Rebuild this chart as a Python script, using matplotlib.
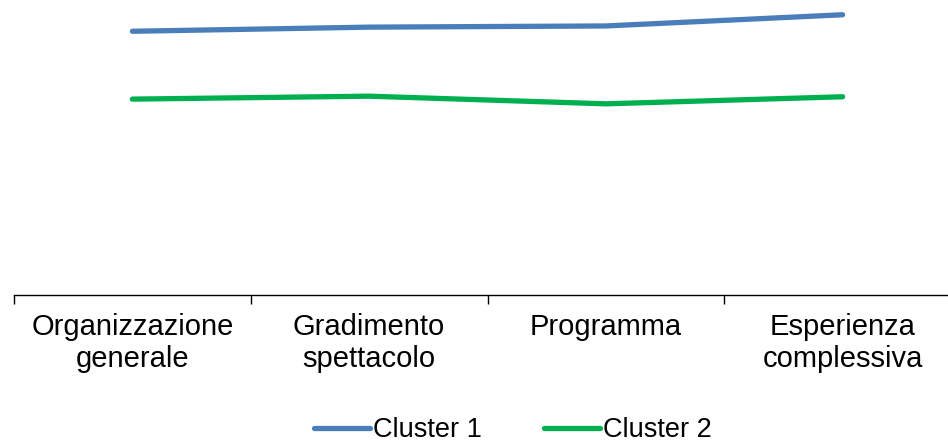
import matplotlib.pyplot as plt
import numpy as np

categories = ['Organizzazione\ngenerale', 'Gradimento\nspettacolo', 'Programma', 'Esperienza\ncomplessiva']
cluster_1 = [4.47, 4.54, 4.56, 4.75]
cluster_2 = [3.32, 3.37, 3.24, 3.36]

plt.rcParams['font.family'] = ['Liberation Sans', 'DejaVu Sans']

fig = plt.figure(figsize=(9.48, 4.43), dpi=100)
# the axis runs past the right edge of the picture, like the original
ax = fig.add_axes([14 / 948, 1 - 295 / 443, 947 / 948, 295 / 443])

x = np.arange(len(categories))
ax.plot(x, cluster_1, color='#4A7EBB', lw=3.8, solid_capstyle='round', label='Cluster 1')
ax.plot(x, cluster_2, color='#00B050', lw=3.8, solid_capstyle='round', label='Cluster 2')

ax.set_xlim(-0.5, len(categories) - 0.5)
ax.set_ylim(0, 5)

for side in ['top', 'right', 'left']:
    ax.spines[side].set_visible(False)
ax.spines['bottom'].set_color('#000000')
ax.spines['bottom'].set_linewidth(1.0)
ax.set_yticks([])

ax.set_xticks(x)
ax.set_xticklabels(categories, fontsize=21, linespacing=1.16)
ax.tick_params(axis='x', which='major', length=0, pad=13)
ax.set_xticks(np.arange(-0.5, len(categories)), minor=True)
ax.tick_params(axis='x', which='minor', length=6.5, width=1.0, direction='out')

# legend sits a bit right of centre in the original
fig.legend(loc='lower center', bbox_to_anchor=(0.541, -0.055), ncol=2, frameon=False,
           fontsize=19.5, handlelength=2.07, handletextpad=0.1, columnspacing=2.3)

fig.savefig('out.png', dpi=100)
